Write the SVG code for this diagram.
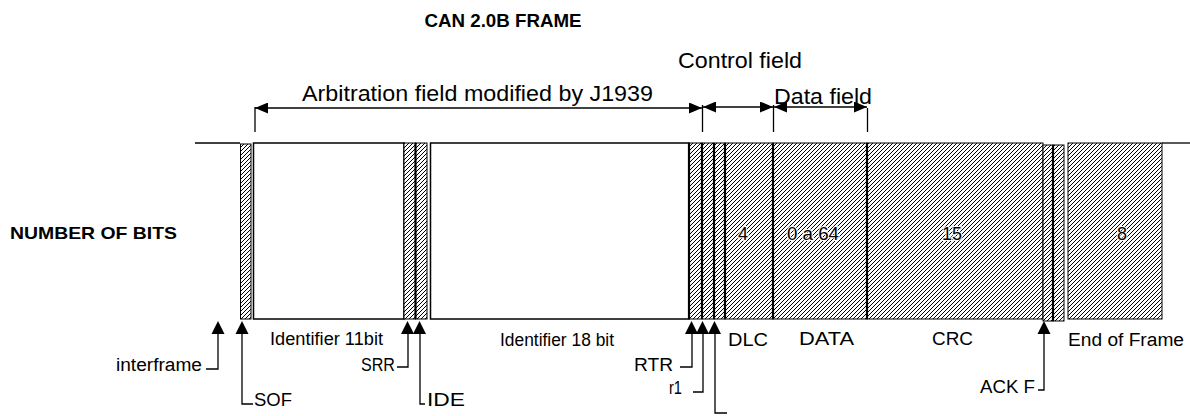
<svg xmlns="http://www.w3.org/2000/svg" width="1190" height="416" viewBox="0 0 1190 416">
<style>
text{font-family:"Liberation Sans",Arial,sans-serif;fill:#000}
.title{font-size:19px;font-weight:bold}
.big{font-size:22px}
.lbl{font-size:18px}
.num{font-size:18px;fill:#000;stroke:#fff;stroke-width:2;paint-order:stroke}
.bold{font-size:17px;font-weight:bold}
.h{fill:url(#hatch);stroke:#000;stroke-width:1}
.w{fill:#fff;stroke:#000;stroke-width:1.5}
.sep{stroke:#000;stroke-width:2.2;fill:none}
.ln{stroke:#000;stroke-width:1.3;fill:none}
.dim{stroke:#000;stroke-width:1.3;fill:none;marker-start:url(#dh);marker-end:url(#dh)}
.tri{fill:#000}
</style>
<defs>
<pattern id="hatch" patternUnits="userSpaceOnUse" width="4" height="4">
<rect width="4" height="4" fill="#fff"/>
<path d="M-1,1 L1,-1 M0,4 L4,0 M3,5 L5,3" stroke="#000" stroke-width="1"/>
</pattern>
<marker id="dh" markerUnits="userSpaceOnUse" markerWidth="13" markerHeight="11" viewBox="0 0 13 11" refX="13" refY="5.5" orient="auto-start-reverse">
<path d="M0,0 L13,5.5 L0,11 z" fill="#000"/>
</marker>
<path id="up" class="tri" d="M0,0 L6.5,13 L-6.5,13 z"/>
</defs>
<rect width="1190" height="416" fill="#fff"/>

<text class="title" x="503" y="27" text-anchor="middle" textLength="157" lengthAdjust="spacingAndGlyphs">CAN 2.0B FRAME</text>
<text class="bold" x="10" y="239" textLength="167" lengthAdjust="spacingAndGlyphs">NUMBER OF BITS</text>

<g id="bus">
<line class="ln" x1="195" y1="143" x2="240" y2="143" stroke-width="1.6"/>
<line class="ln" x1="1162" y1="143" x2="1190" y2="143" stroke-width="1.6"/>
</g>

<g id="sof"><rect class="h" x="240.5" y="144" width="10.5" height="175"/></g>
<g id="id11"><rect class="w" x="253.5" y="143" width="150.5" height="176"/></g>
<g id="srr"><rect class="h" x="404" y="143" width="11.5" height="176"/></g>
<g id="ide"><rect class="h" x="415.5" y="143" width="11.5" height="176"/><line class="sep" x1="415.5" y1="143" x2="415.5" y2="319"/></g>
<g id="id18"><rect class="w" x="430.5" y="143" width="258.5" height="176"/></g>
<g id="rtr"><rect class="h" x="689" y="143" width="13" height="176"/></g>
<g id="r1"><rect class="h" x="702" y="143" width="12" height="176"/></g>
<g id="r0"><rect class="h" x="714" y="143" width="11" height="176"/></g>
<g id="dlc"><rect class="h" x="725" y="143" width="48" height="176"/><text class="num" x="743" y="240" text-anchor="middle">4</text></g>
<g id="data"><rect class="h" x="773" y="143" width="94" height="176"/><text class="num" x="787" y="240" textLength="52" lengthAdjust="spacingAndGlyphs">0 a 64</text></g>
<g id="crc"><rect class="h" x="867" y="143" width="176" height="176"/><text class="num" x="952" y="240" text-anchor="middle">15</text></g>
<g id="ackslot"><rect class="h" x="1043" y="145" width="10" height="176"/></g>
<g id="ackdel"><rect class="h" x="1053" y="145" width="11" height="176"/></g>
<g id="eof"><rect class="h" x="1068" y="143" width="94" height="176"/><text class="num" x="1122" y="240" text-anchor="middle">8</text></g>
<g id="separators">
<line class="sep" x1="689" y1="143" x2="689" y2="319"/>
<line class="sep" x1="702" y1="143" x2="702" y2="319"/>
<line class="sep" x1="714" y1="143" x2="714" y2="319"/>
<line class="sep" x1="725" y1="143" x2="725" y2="319"/>
<line class="sep" x1="773" y1="143" x2="773" y2="319"/>
<line class="sep" x1="867" y1="143" x2="867" y2="319"/>
<line class="sep" x1="1053" y1="145" x2="1053" y2="321"/>
</g>

<g id="labels">
<text class="big" x="302" y="101" textLength="351" lengthAdjust="spacingAndGlyphs">Arbitration field modified by J1939</text>
<text class="big" x="678" y="68" textLength="124" lengthAdjust="spacingAndGlyphs">Control field</text>
<text class="big" x="774" y="104" textLength="98" lengthAdjust="spacingAndGlyphs">Data field</text>
<text class="lbl" x="270" y="345" textLength="113" lengthAdjust="spacingAndGlyphs">Identifier 11bit</text>
<text class="lbl" x="500" y="346" textLength="114" lengthAdjust="spacingAndGlyphs">Identifier 18 bit</text>
<text class="lbl" x="728" y="346" textLength="40" lengthAdjust="spacingAndGlyphs">DLC</text>
<text class="lbl" x="799" y="345" textLength="55" lengthAdjust="spacingAndGlyphs">DATA</text>
<text class="lbl" x="932" y="345" textLength="41" lengthAdjust="spacingAndGlyphs">CRC</text>
<text class="lbl" x="1068" y="346" textLength="116" lengthAdjust="spacingAndGlyphs">End of Frame</text>
<text class="lbl" x="116" y="371" textLength="86" lengthAdjust="spacingAndGlyphs">interframe</text>
<text class="lbl" x="361" y="371" textLength="34" lengthAdjust="spacingAndGlyphs">SRR</text>
<text class="lbl" x="634" y="371" textLength="39" lengthAdjust="spacingAndGlyphs">RTR</text>
<text class="lbl" x="669" y="394" textLength="13" lengthAdjust="spacingAndGlyphs">r1</text>
<text class="lbl" x="980" y="393" textLength="55" lengthAdjust="spacingAndGlyphs">ACK F</text>
<text class="lbl" x="254" y="406" textLength="38" lengthAdjust="spacingAndGlyphs">SOF</text>
<text class="lbl" x="427" y="406" textLength="38" lengthAdjust="spacingAndGlyphs">IDE</text>
</g>

<g id="connectors">
<path class="dim" d="M255,108 H702"/>
<path class="dim" d="M703,107 H773"/>
<path class="dim" d="M774,107 H867"/>
<line class="ln" x1="255" y1="107" x2="255" y2="132"/>
<line class="ln" x1="702.5" y1="105" x2="702.5" y2="132"/>
<line class="ln" x1="773.5" y1="105" x2="773.5" y2="132"/>
<line class="ln" x1="867.5" y1="108" x2="867.5" y2="132"/>
<path class="ln" d="M218,330 V369 H206"/><use href="#up" x="218" y="321"/>
<path class="ln" d="M242,330 V404 H253"/><use href="#up" x="242" y="321"/>
<path class="ln" d="M408,330 V367 H397"/><use href="#up" x="407.5" y="321"/>
<path class="ln" d="M420,330 V404 H425"/><use href="#up" x="419.5" y="321"/>
<path class="ln" d="M692,330 V367 H680"/><use href="#up" x="691.5" y="321"/>
<path class="ln" d="M703,330 V392 H693"/><use href="#up" x="702.5" y="321"/>
<path class="ln" d="M715,330 V413 H727"/><use href="#up" x="714.5" y="321"/>
<path class="ln" d="M1044,330 V390 H1038"/><use href="#up" x="1044" y="321"/>
</g>
</svg>
